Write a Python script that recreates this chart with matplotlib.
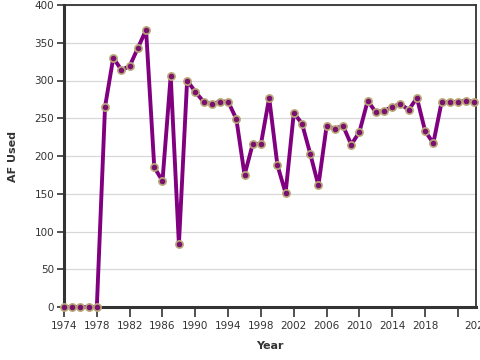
import matplotlib
matplotlib.use("Agg")
import matplotlib.pyplot as plt
import matplotlib.transforms as mtransforms

years = list(range(1974, 2025))
af_used = [0, 0, 0, 0, 0, 265, 330, 314, 319, 343,
           367, 185, 167, 306, 83, 300, 285, 272, 269, 272,
           272, 249, 175, 216, 216, 277, 188, 151, 257, 243,
           203, 161, 240, 236, 240, 215, 232, 273, 258, 260,
           265, 269, 261, 277, 233, 217, 271, 271, 272, 273,
           272]
xticks = [1974, 1978, 1982, 1986, 1990, 1994, 1998, 2002, 2006, 2010, 2014, 2018, 2022]
yticks = [0, 50, 100, 150, 200, 250, 300, 350, 400]

fig = plt.figure(figsize=(4.8, 3.6), dpi=100)
ax = fig.add_axes([64/480, 1-307/360, (476-64)/480, (307-5)/360])

ax.plot(years, af_used, color="#800080", linewidth=2.8, zorder=3,
        marker="o", markersize=5.2, markerfacecolor="#7a1070",
        markeredgecolor="#b8a878", markeredgewidth=1.2, clip_on=False)

ax.set_xlim(1974, 2024.2)
ax.set_ylim(0, 400)
ax.set_xticks(xticks)
ax.set_yticks(yticks)
ax.grid(axis="y", color="#d8d8d8", linewidth=0.9)
ax.set_axisbelow(True)

for s in ["left", "bottom"]:
    ax.spines[s].set_linewidth(2.2)
    ax.spines[s].set_color("#333333")
for s in ["right", "top"]:
    ax.spines[s].set_linewidth(1.3)
    ax.spines[s].set_color("#333333")

ax.tick_params(axis="both", labelsize=7.5, colors="#333333", width=1.2,
               direction="out")
ax.tick_params(axis="x", length=7, pad=3)
ax.tick_params(axis="y", length=5, pad=2)

fig.canvas.draw()
lbls = ax.get_xticklabels()
off = mtransforms.ScaledTranslation(19/100, 0, fig.dpi_scale_trans)
lbls[-1].set_transform(lbls[-1].get_transform() + off)

ax.set_xlabel("Year", fontsize=8, fontweight="bold", color="#333333", labelpad=7)
ax.set_ylabel("AF Used", fontsize=8, fontweight="bold", color="#333333", labelpad=12)

fig.savefig("out.png", dpi=100)
